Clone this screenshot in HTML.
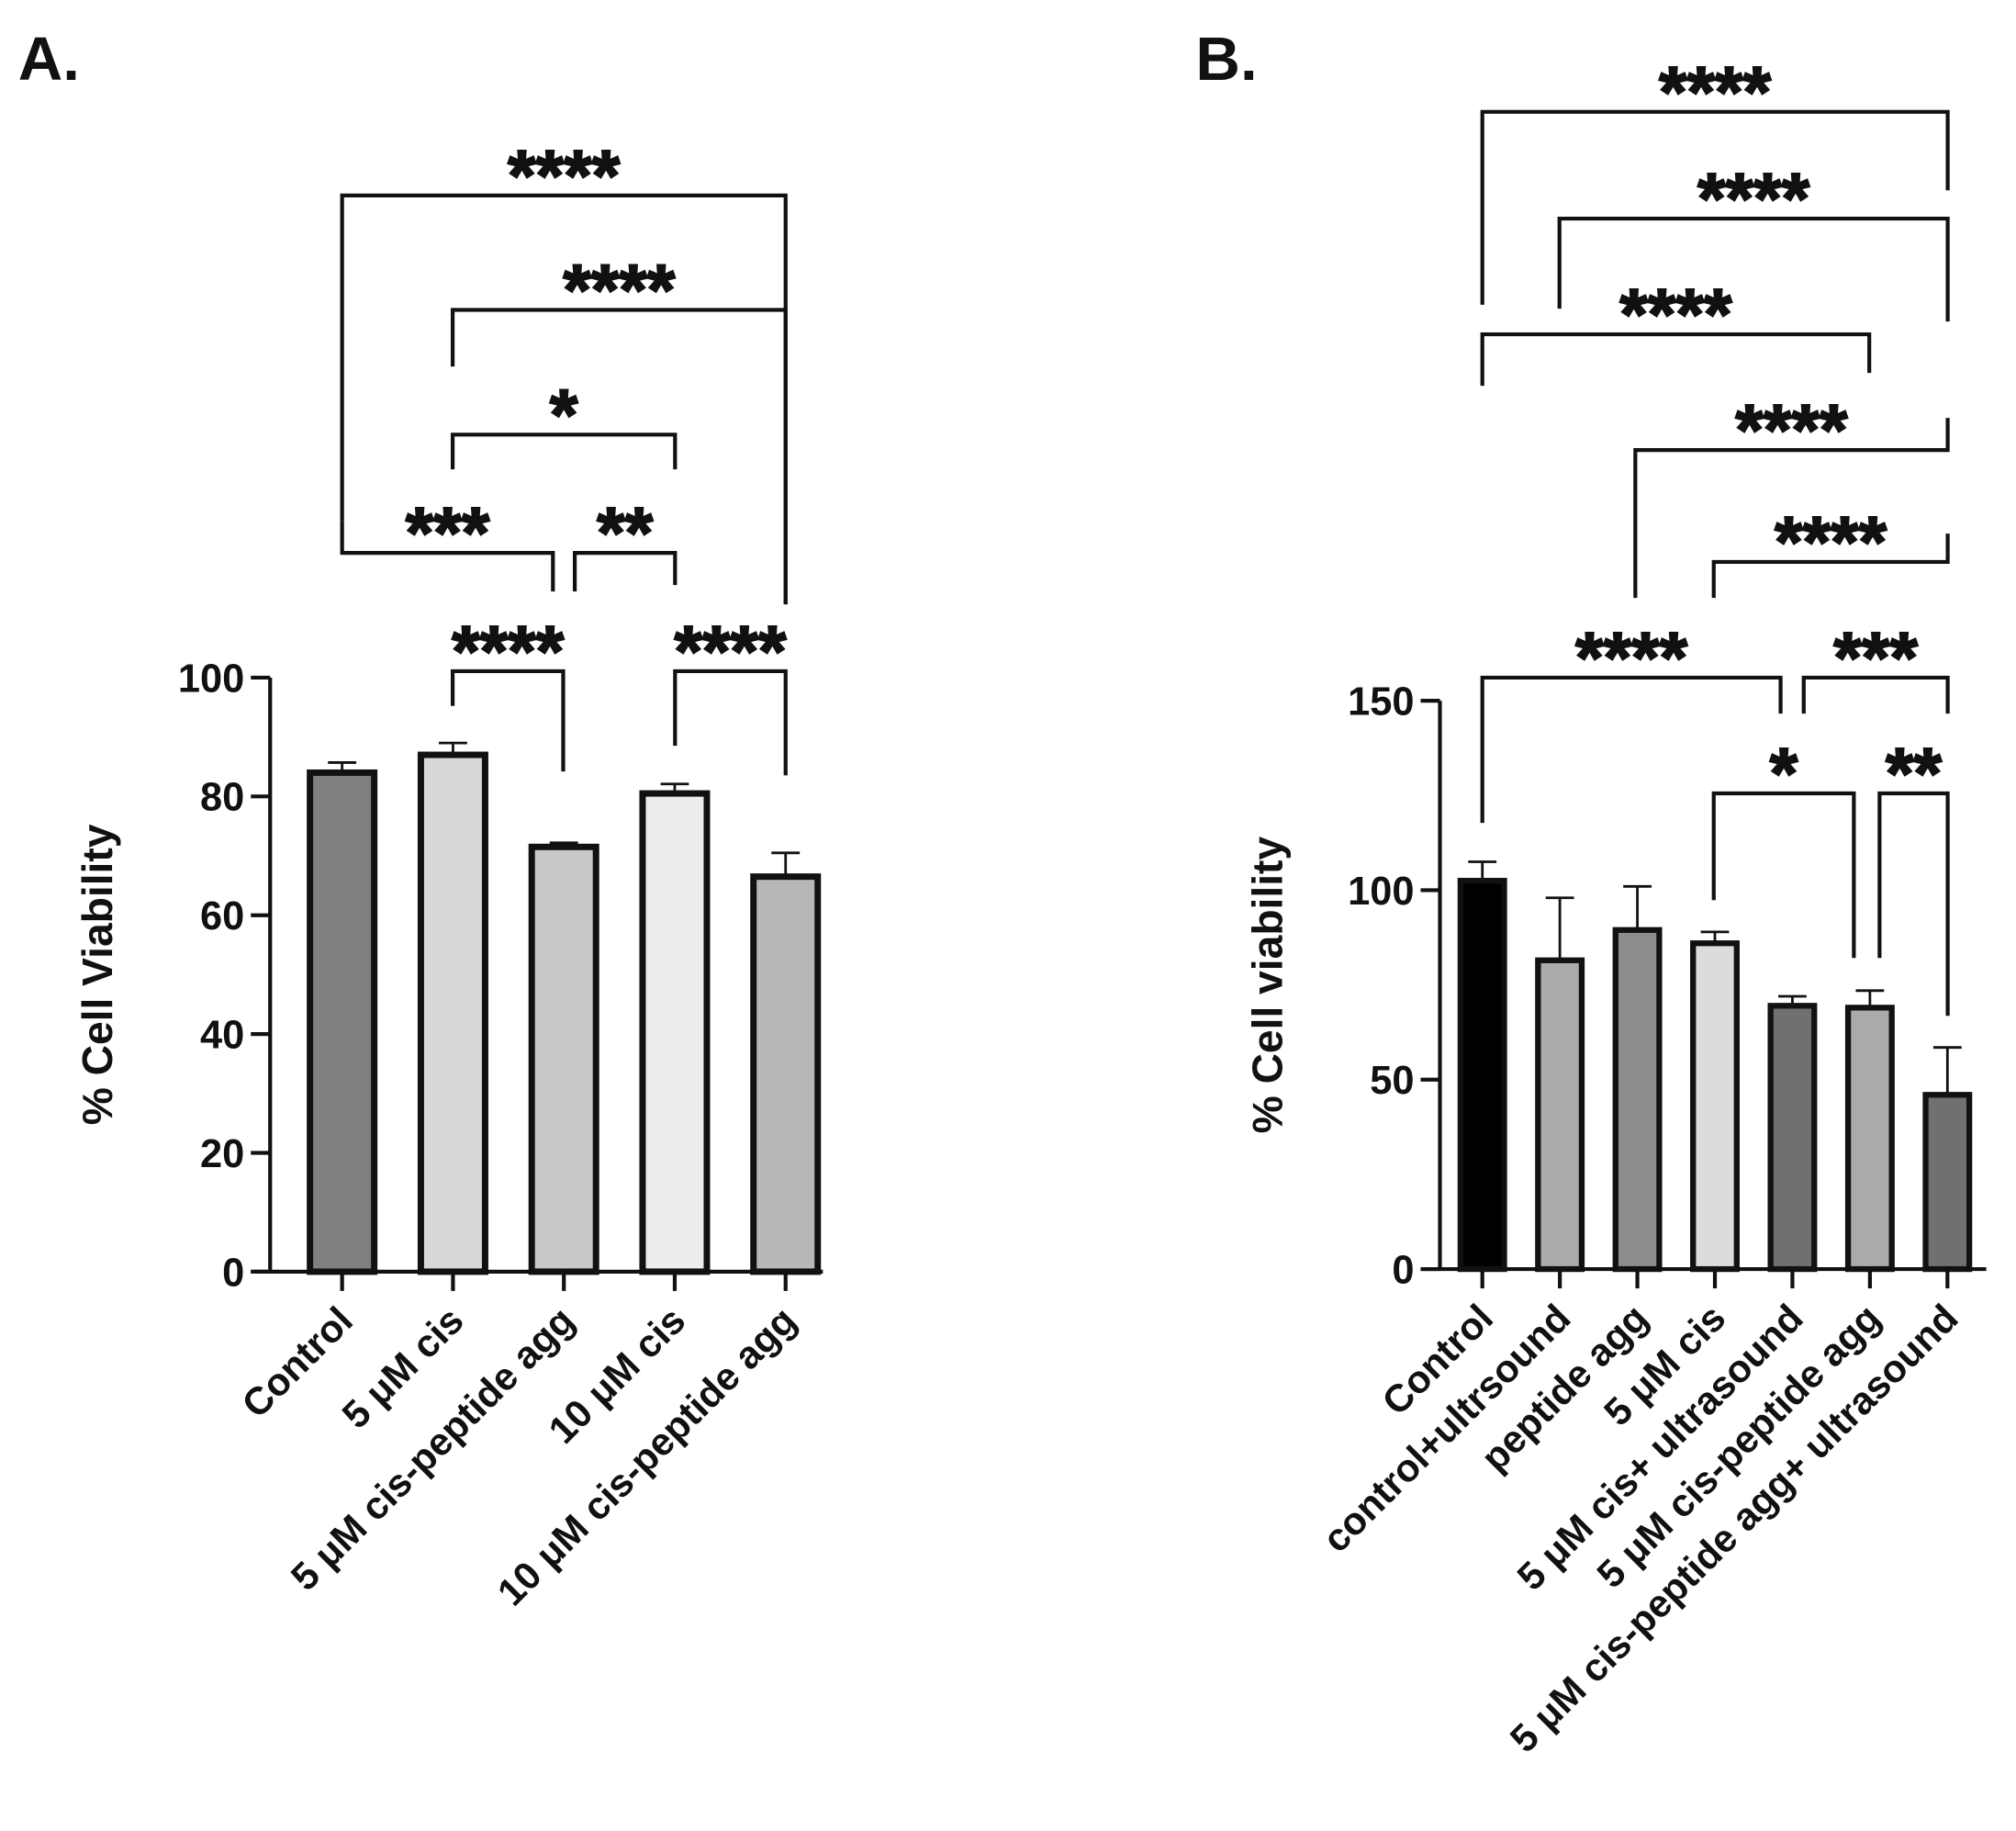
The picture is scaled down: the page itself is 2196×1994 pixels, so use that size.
<!DOCTYPE html>
<html><head><meta charset="utf-8"><style>
html,body{margin:0;padding:0;background:#fff}
svg{display:block}
text{font-family:"Liberation Sans",sans-serif;font-weight:bold;fill:#111}
</style></head><body>
<svg id="fig" width="2196" height="1994" viewBox="0 0 1568 1424" xmlns="http://www.w3.org/2000/svg">
<text x="14" y="62" font-size="48">A.</text>
<text x="930" y="62" font-size="48">B.</text>
<g id="pa"></g>
<g id="pb"></g>
</svg>
<script>
const catsA=["Control","5 μM cis","5 μM cis-peptide agg","10 μM cis","10 μM cis-peptide agg"];
const valsA=[84,87,71.5,80.5,66.5];
const errA=[1.7,2,0.7,1.6,4];
const colorsA=["#808080","#d8d8d8","#c8c8c8","#ececec","#b8b8b8"];
const ticksA=[0,20,40,60,80,100];
const catsB=["Control","control+ultrsound","peptide agg","5 μM cis","5 μM cis+ ultrasound","5 μM cis-peptide agg","5 μM cis-peptide agg+ ultrasound"];
const valsB=[102.5,81.5,89.5,86,69.5,69,46];
const errB=[5,16.5,11.5,3,2.5,4.5,12.5];
const colorsB=["#000000","#aaaaaa","#8c8c8c","#dcdcdc","#707070","#aaaaaa","#707070"];
const ticksB=[0,50,100,150];
const brA=[[266,611,152,405,470,"****"],[352,611,241,285,470,"****"],[352,525,338,365,365,"*"],[266,430,430,405,460,"***"],[447,525,430,460,455,"**"],[352,438,522,549,600,"****"],[525,611,522,580,603,"****"]];
const brB=[[1153,1515,87,237,148,"****"],[1213,1515,170,240,250,"****"],[1153,1454,260,300,290,"****"],[1272,1515,350,465,325,"****"],[1333,1515,437,465,415,"****"],[1153,1385,527,640,555,"****"],[1403,1515,527,555,555,"***"],[1333,1442,617,700,745,"*"],[1462,1515,617,745,790,"**"]];
const NS="http://www.w3.org/2000/svg";
function mk(p,t,a){const e=document.createElementNS(NS,t);for(const k in a)e.setAttribute(k,a[k]);p.appendChild(e);return e;}
function chart(g,o){
  const y=v=>o.y0-(v-o.min)/(o.max-o.min)*(o.y0-o.yTop);
  const x=i=>o.x0+i*o.step;
  let e=mk(g,"line",{x1:o.ax,y1:o.yTop,x2:o.ax,y2:o.y0,stroke:"#111","stroke-width":3});
  
  
  e=mk(g,"line",{x1:o.ax-15,y1:o.y0,x2:o.xEnd,y2:o.y0,stroke:"#111","stroke-width":3});
  
  
  o.ticks.forEach(t=>{
    mk(g,"line",{x1:o.ax-15,y1:y(t),x2:o.ax,y2:y(t),stroke:"#111","stroke-width":3});
    e=mk(g,"text",{x:o.ax-20,y:y(t)+11,"font-size":31,"text-anchor":"end"});e.textContent=t;
    
    
  });
  e=mk(g,"text",{x:0,y:0,"font-size":33,"text-anchor":"middle",transform:`translate(${o.ax-123},${(o.yTop+o.y0)/2}) rotate(-90)`});
  e.textContent=o.title;
  
  
  o.cats.forEach((c,i)=>{
    const cx=x(i),top=y(o.vals[i]);
    mk(g,"line",{x1:cx,y1:top,x2:cx,y2:y(o.vals[i]+o.err[i]),stroke:"#111","stroke-width":2});
    mk(g,"line",{x1:cx-11,y1:y(o.vals[i]+o.err[i]),x2:cx+11,y2:y(o.vals[i]+o.err[i]),stroke:"#111","stroke-width":2});
    e=mk(g,"rect",{x:cx-o.bw/2,y:top,width:o.bw,height:o.y0-top,fill:o.colors[i],stroke:"#111","stroke-width":o.sw});
    
    
    mk(g,"line",{x1:cx,y1:o.y0,x2:cx,y2:o.y0+15,stroke:"#111","stroke-width":3});
    e=mk(g,"text",{x:0,y:0,"font-size":30,"text-anchor":"end",transform:`translate(${cx+10},${o.y0+40}) rotate(-45)`});
    e.textContent=c;
    
    
  });
  o.br.forEach(b=>{
    e=mk(g,"polyline",{points:`${b[0]},${b[3]} ${b[0]},${b[2]} ${b[1]},${b[2]} ${b[1]},${b[4]}`,fill:"none",stroke:"#111","stroke-width":3});
    
    
    e=mk(g,"text",{x:(b[0]+b[1])/2,y:b[2]+4,"font-size":56,"text-anchor":"middle","stroke":"#111","stroke-width":1.5});
    e.textContent=b[5];
    
    
  });
}
chart(document.getElementById('pa'),{ax:210,y0:989,yTop:527,min:0,max:100,x0:266,step:86.25,bw:50,sw:5,xEnd:640,ticks:ticksA,cats:catsA,vals:valsA,err:errA,colors:colorsA,title:"% Cell Viability",br:brA});
chart(document.getElementById('pb'),{ax:1120,y0:987,yTop:545,min:0,max:150,x0:1153,step:60.3,bw:34,sw:4.5,xEnd:1545,ticks:ticksB,cats:catsB,vals:valsB,err:errB,colors:colorsB,title:"% Cell viability",br:brB});
</script>
</body></html>
